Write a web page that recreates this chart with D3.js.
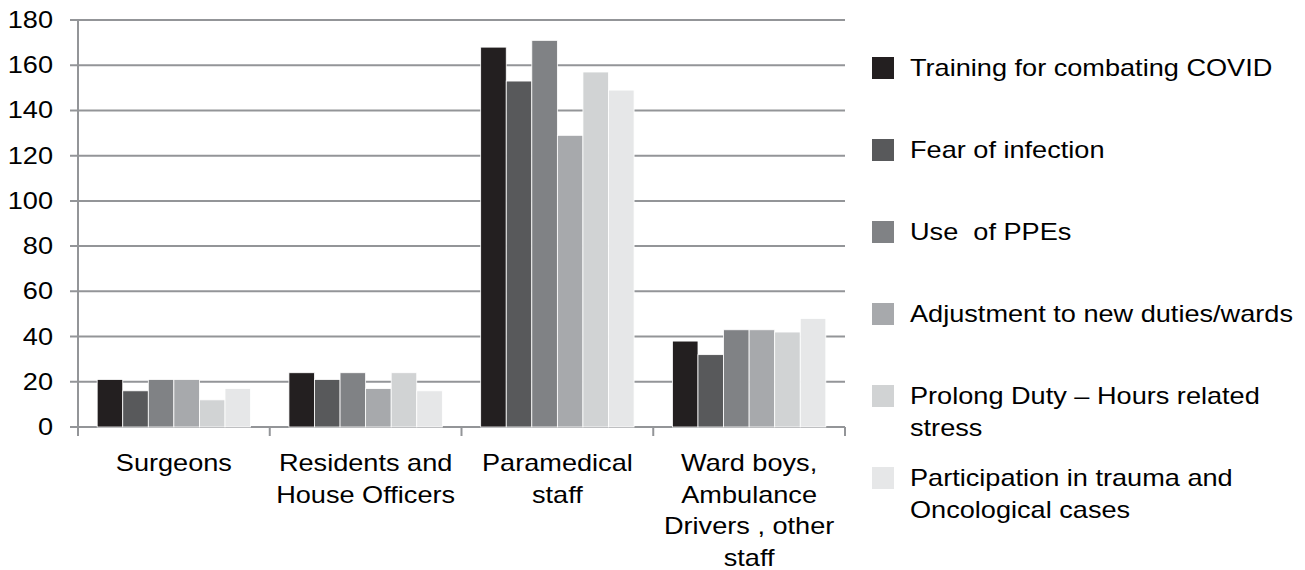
<!DOCTYPE html>
<html>
<head>
<meta charset="utf-8">
<script src="https://d3js.org/d3.v7.min.js"></script>
<style>
    html, body { margin: 0; padding: 0; background: #fff; }
    text { font-family: "Liberation Sans", Arial, sans-serif; fill: #000; }
</style>
</head>
<body>
<div id="container"></div>
<script>
// 数据
const categories = ["Surgeons", "Residents and House Officers", "Paramedical staff",
    "Ward boys, Ambulance Drivers , other staff"];
const categoryLines = [
    ["Surgeons"],
    ["Residents and", "House Officers"],
    ["Paramedical", "staff"],
    ["Ward boys,", "Ambulance", "Drivers , other", "staff"]
];
const seriesNames = ["Training for combating COVID", "Fear of infection", "Use  of PPEs",
    "Adjustment to new duties/wards", "Prolong Duty \u2013 Hours related stress",
    "Participation in trauma and Oncological cases"];
const legendLines = [
    ["Training for combating COVID"],
    ["Fear of infection"],
    ["Use\u00a0 of PPEs"],
    ["Adjustment to new duties/wards"],
    ["Prolong Duty \u2013 Hours related", "stress"],
    ["Participation in trauma and", "Oncological cases"]
];
const training = [21, 24, 168, 38];
const fear = [16, 21, 153, 32];
const ppe = [21, 24, 171, 43];
const adjustment = [21, 17, 129, 43];
const prolong = [12, 24, 157, 42];
const participation = [17, 16, 149, 48];
const yTicks = [0, 20, 40, 60, 80, 100, 120, 140, 160, 180];
const colors = ["#231f20", "#58595b", "#808285", "#a7a9ac", "#d1d3d4", "#e6e7e8"];

const W = 1305, H = 570;
const FONT = 23, SX = 1.18, LINE = 31.5;
const GRID = "#939598";

const series = [training, fear, ppe, adjustment, prolong, participation];

const svg = d3.select("#container").append("svg")
    .attr("width", W).attr("height", H);

const x = d3.scaleBand().domain(categories).range([78, 845])
    .paddingInner(0.2).paddingOuter(0.1);
const xs = d3.scaleBand().domain(d3.range(series.length)).range([0, x.bandwidth()]);
const y = d3.scaleLinear().domain([0, 180]).range([427, 20]);

// 网格线 + y 轴
svg.append("g").selectAll("line").data(yTicks).enter().append("line")
    .attr("x1", 70).attr("x2", 845)
    .attr("y1", d => y(d)).attr("y2", d => y(d))
    .attr("stroke", GRID).attr("stroke-width", 2);

svg.append("line").attr("x1", 78).attr("x2", 78)
    .attr("y1", y(180)).attr("y2", 436)
    .attr("stroke", GRID).attr("stroke-width", 2);

// x 轴刻度 (类别边界)
const bounds = categories.map(c => x(c) - x.step() * 0.1).concat([845]);
svg.append("g").selectAll("line").data(bounds.slice(1)).enter().append("line")
    .attr("x1", d => d).attr("x2", d => d)
    .attr("y1", 427).attr("y2", 436)
    .attr("stroke", GRID).attr("stroke-width", 2);

// 缩放文字
function stretchText(g, tx, ty, str, anchor) {
    return g.append("text")
        .attr("transform", `translate(${tx},${ty}) scale(${SX},1)`)
        .attr("text-anchor", anchor)
        .style("font-size", FONT + "px")
        .text(str);
}

// y 刻度标签
const yLab = svg.append("g");
yTicks.forEach(t => stretchText(yLab, 53, y(t) + 8, t, "end"));

// 柱子
const groups = svg.append("g").selectAll("g").data(categories).enter().append("g")
    .attr("transform", d => `translate(${x(d)},0)`);
groups.selectAll("rect")
    .data((d, i) => series.map((s, k) => ({ k, v: s[i] })))
    .enter().append("rect")
    .attr("x", d => xs(d.k))
    .attr("width", xs.bandwidth())
    .attr("y", d => y(d.v))
    .attr("height", d => y(0) - y(d.v))
    .attr("fill", d => colors[d.k])
    .attr("stroke", "#fff").attr("stroke-width", 0.8);

// x 标签
const xLab = svg.append("g");
categories.forEach((c, i) => {
    categoryLines[i].forEach((ln, j) => {
        stretchText(xLab, x(c) + x.bandwidth() / 2, 471 + j * LINE, ln, "middle");
    });
});

// 图例
const leg = svg.append("g");
seriesNames.forEach((n, i) => {
    const cy = 68 + i * 82;
    leg.append("rect").attr("x", 872).attr("y", cy - 11)
        .attr("width", 22).attr("height", 22).attr("fill", colors[i]);
    legendLines[i].forEach((ln, j) => {
        stretchText(leg, 910, cy + 8 + j * LINE, ln, "start");
    });
});
</script>
</body>
</html>
